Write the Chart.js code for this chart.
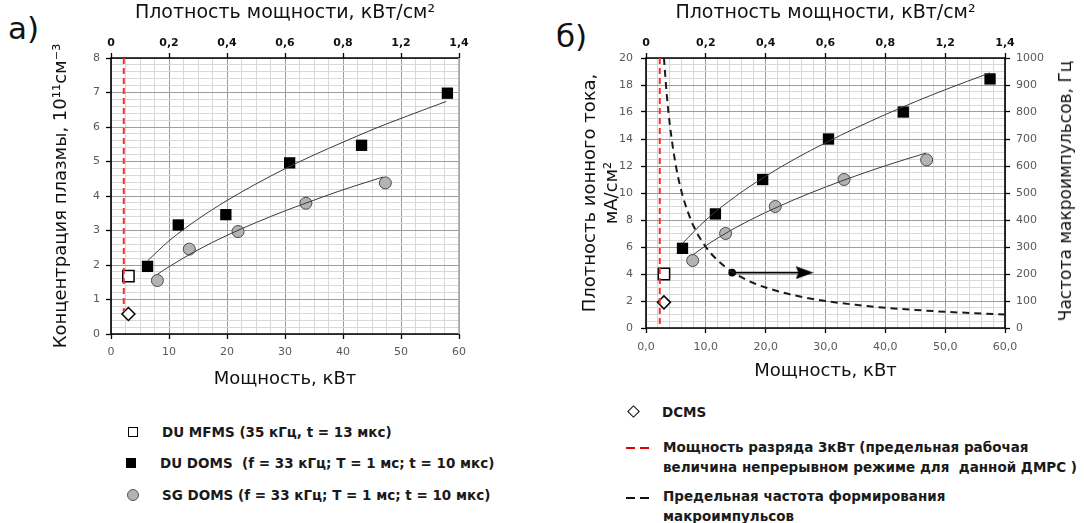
<!DOCTYPE html>
<html><head><meta charset="utf-8">
<script src="https://cdn.jsdelivr.net/npm/chart.js@4.4.1/dist/chart.umd.min.js"></script>
<style>
body{margin:0;width:1084px;height:523px;background:#fff;position:relative;overflow:hidden;font-family:"DejaVu Sans",sans-serif;color:#111}
canvas{position:absolute;top:0}
#ca{left:0}
#cb{left:540px}
.lbl{position:absolute;font-size:31px;line-height:36px}
.leg{position:absolute;font-size:13.5px;font-weight:bold;white-space:nowrap;line-height:20px;color:#1a1a1a}
.mk{position:absolute;box-sizing:border-box}
.dash{position:absolute;height:2px;width:9px}
#rt{position:absolute;left:1065px;top:191px;transform:translate(-50%,-50%) rotate(-90deg);font-size:17px;white-space:nowrap}
</style></head><body>
<div class="lbl" style="left:8px;top:10px">а)</div>
<div class="lbl" style="left:556px;top:18px">б)</div>
<canvas id="ca" width="540" height="400"></canvas>
<canvas id="cb" width="544" height="400"></canvas>
<div id="rt">Частота макроимпульсов, Гц</div>

<div class="mk" style="left:128px;top:427px;width:10px;height:10px;border:1.5px solid #000;background:#fff"></div>
<div class="leg" style="left:162px;top:422px">DU MFMS (35 кГц, t = 13 мкс)</div>
<div class="mk" style="left:126px;top:458px;width:10px;height:10px;background:#000"></div>
<div class="leg" style="left:160px;top:453px">DU DOMS&nbsp; (f = 33 кГц; T = 1 мс; t = 10 мкс)</div>
<div class="mk" style="left:127px;top:489px;width:12px;height:12px;border-radius:50%;background:#b3b3b3;border:1px solid #555"></div>
<div class="leg" style="left:162px;top:485px">SG DOMS (f = 33 кГц; T = 1 мс; t = 10 мкс)</div>

<div class="mk" style="left:629px;top:407px;width:9px;height:9px;border:1.5px solid #000;transform:rotate(45deg);background:#fff"></div>
<div class="leg" style="left:662px;top:402px">DCMS</div>
<div class="dash" style="left:626px;top:447px;background:#e00000"></div>
<div class="dash" style="left:640px;top:447px;background:#e00000"></div>
<div class="leg" style="left:663px;top:437px">Мощность разряда 3кВт (предельная рабочая</div>
<div class="leg" style="left:663px;top:457px">величина непрерывном режиме для&nbsp; данной ДМРС )</div>
<div class="dash" style="left:626px;top:497px;background:#111"></div>
<div class="dash" style="left:640px;top:497px;background:#111"></div>
<div class="leg" style="left:663px;top:486px">Предельная частота формирования</div>
<div class="leg" style="left:663px;top:506px">макроимпульсов</div>

<script>
// ---------- data ----------
const topDensityLabels = ['0','0,2','0,4','0,6','0,8','1,2','1,4'];

// chart а) plasma concentration, 10^11 cm^-3
const aMfmsX = [3.0];  const aMfmsY = [1.68];
const aDcmsX = [3.0];  const aDcmsY = [0.58];
const aDuX = [6.3, 11.6, 19.8, 30.8, 43.2, 58.0];
const aDuY = [1.96, 3.16, 3.46, 4.96, 5.47, 6.98];
const aSgX = [8.0, 13.5, 21.9, 33.6, 47.3];
const aSgY = [1.55, 2.46, 2.97, 3.79, 4.38];
const aDuTrendX = [6.3, 10, 15, 20, 25, 30, 35, 40, 45, 50, 57.8];
const aDuTrendY = [2.12, 2.70, 3.33, 3.87, 4.35, 4.79, 5.19, 5.56, 5.92, 6.25, 6.74];
const aSgTrendX = [8.0, 10, 15, 20, 25, 30, 35, 40, 46.9];
const aSgTrendY = [1.73, 1.95, 2.44, 2.86, 3.23, 3.57, 3.88, 4.18, 4.55];
const aLimitX = [2.2, 2.2]; const aLimitY = [8, 0.65];

// chart б) ion current density, mA/cm^2 and macro-pulse frequency, Hz
const bMfmsX = [3.0];  const bMfmsY = [4.0];
const bDcmsX = [3.0];  const bDcmsY = [1.9];
const bDuX = [6.1, 11.6, 19.5, 30.5, 43.0, 57.5];
const bDuY = [5.9, 8.45, 11.0, 14.0, 16.0, 18.45];
const bSgX = [7.8, 13.3, 21.6, 33.1, 46.9];
const bSgY = [5.0, 7.0, 9.0, 11.0, 12.45];
const bDuTrendX = [6.1, 10, 15, 20, 25, 30, 35, 40, 45, 50, 57.5];
const bDuTrendY = [6.27, 8.0, 9.76, 11.25, 12.55, 13.72, 14.8, 15.81, 16.76, 17.65, 18.9];
const bSgTrendX = [7.8, 10, 15, 20, 25, 30, 35, 40, 46.8];
const bSgTrendY = [5.4, 6.1, 7.44, 8.56, 9.55, 10.44, 11.26, 12.02, 12.96];
const bFreqX  = [3.0, 3.5, 4, 5, 6, 7, 8, 10, 12, 14.4, 17, 20, 25, 30, 35, 40, 45, 50, 55, 60];
const bFreqHz = [1000, 857, 750, 600, 500, 430, 375, 300, 250, 208, 176, 150, 120, 100, 86, 75, 67, 60, 55, 50];
const bLimitX = [2.3, 2.3]; const bLimitY = [20, 0];
const bArrowX = [14.4, 26.5]; const bArrowY = [4.1, 4.1];

// ---------- helpers ----------
const pts = (xs, ys) => xs.map((x, i) => ({x, y: ys[i]}));
const isMul = (v, m) => Math.abs(v / m - Math.round(v / m)) < 1e-6;
const tickFont = {family: 'DejaVu Sans', size: 11};
const tickColor = '#595959';
function grid(major) {
  return {
    color: c => isMul(c.tick.value, major) ? '#9c9c9c' : '#d8d8d8',
    lineWidth: 1,
    tickLength: 5,
    tickWidth: 1.3,
    tickColor: c => isMul(c.tick.value, major) ? '#000' : 'rgba(0,0,0,0)'
  };
}
const framePlugin = {
  id: 'frame',
  beforeDatasetsDraw(chart, args, opts) {
    const {ctx, chartArea: a} = chart;
    ctx.save();
    ctx.lineWidth = 1.6;
    ctx.strokeStyle = '#000';
    ctx.beginPath();
    ctx.moveTo(a.right, a.top); ctx.lineTo(a.left, a.top);
    ctx.lineTo(a.left, a.bottom); ctx.lineTo(a.right, a.bottom);
    ctx.stroke();
    ctx.strokeStyle = opts.rightColor || '#000';
    ctx.beginPath(); ctx.moveTo(a.right, a.top); ctx.lineTo(a.right, a.bottom); ctx.stroke();
    ctx.restore();
  }
};

const trend = (data, yAxisID) => ({data, showLine: true, borderColor: '#3a3a3a', borderWidth: 1,
  pointRadius: 0, cubicInterpolationMode: 'monotone', fill: false, yAxisID});
const limitLine = (data, yAxisID) => ({data, showLine: true, borderColor: '#ff2a2a', borderWidth: 2,
  borderDash: [6, 4], pointRadius: 0, yAxisID});
const duSet = (data, yAxisID) => ({data, pointStyle: 'rect', pointRadius: 8, backgroundColor: '#000',
  borderColor: '#000', borderWidth: 0, yAxisID});
const sgSet = (data, yAxisID) => ({data, pointStyle: 'circle', pointRadius: 6, backgroundColor: '#b3b3b3',
  borderColor: '#4a4a4a', borderWidth: 1, yAxisID});
const mfmsSet = (data, yAxisID) => ({data, pointStyle: 'rect', pointRadius: 8, backgroundColor: '#fff',
  borderColor: '#000', borderWidth: 1.5, yAxisID});
const dcmsSet = (data, yAxisID) => ({data, pointStyle: 'rectRot', pointRadius: 6.5, backgroundColor: '#fff',
  borderColor: '#000', borderWidth: 1.5, yAxisID});

function topAxis() {
  return {
    type: 'linear', position: 'top', min: 0, max: 60,
    ticks: {stepSize: 10, autoSkip: false, maxRotation: 0, padding: 3, color: '#111',
      font: {family: 'DejaVu Sans', size: 11, weight: 'bold'},
      callback: (v, i) => topDensityLabels[i]},
    grid: {drawOnChartArea: false, tickLength: 5, tickWidth: 1.3, tickColor: '#000'},
    border: {display: false},
    title: {display: true, text: 'Плотность мощности, кВт/см²', color: '#111',
      font: {family: 'DejaVu Sans', size: 19}, padding: {top: 2, bottom: 0}},
    afterFit: s => { s.height = 58; }
  };
}

// ---------- chart а) ----------
new Chart(document.getElementById('ca'), {
  type: 'scatter',
  data: {datasets: [
    limitLine(pts(aLimitX, aLimitY), 'y'),
    trend(pts(aDuTrendX, aDuTrendY), 'y'),
    trend(pts(aSgTrendX, aSgTrendY), 'y'),
    duSet(pts(aDuX, aDuY), 'y'),
    sgSet(pts(aSgX, aSgY), 'y'),
    mfmsSet(pts(aMfmsX, aMfmsY), 'y'),
    dcmsSet(pts(aDcmsX, aDcmsY), 'y')
  ]},
  options: {
    responsive: false, animation: false,
    layout: {padding: {left: 0, top: 0, right: 81, bottom: 0}},
    plugins: {legend: {display: false}, tooltip: {enabled: false}, frame: {rightColor: '#a8a8a8'}},
    scales: {
      x: {type: 'linear', position: 'bottom', min: 0, max: 60,
        ticks: {stepSize: 2.5, autoSkip: false, maxRotation: 0, padding: 7, color: tickColor, font: tickFont,
          callback: v => isMul(v, 10) ? String(Math.round(v)) : ''},
        grid: grid(10), border: {display: false},
        title: {display: true, text: 'Мощность, кВт', color: '#111', font: {family: 'DejaVu Sans', size: 18},
          padding: {top: 0, bottom: 10}},
        afterFit: s => { s.height = 66; }},
      xTop: topAxis(),
      y: {type: 'linear', position: 'left', min: 0, max: 8,
        ticks: {stepSize: 0.2, autoSkip: false, padding: 6, color: tickColor, font: tickFont,
          callback: v => isMul(v, 1) ? String(Math.round(v)) : ''},
        grid: grid(1), border: {display: false},
        title: {display: true, text: 'Концентрация плазмы, 10¹¹см⁻³', color: '#111',
          font: {family: 'DejaVu Sans', size: 18}, padding: {top: 51, bottom: 0}},
        afterFit: s => { s.width = 111; }}
    }
  },
  plugins: [framePlugin]
});

// ---------- chart б) ----------
const arrowHead = document.createElement('canvas');
arrowHead.width = 18; arrowHead.height = 13;
(function () {
  const g = arrowHead.getContext('2d');
  g.fillStyle = '#000';
  g.beginPath(); g.moveTo(0, 0); g.lineTo(18, 6.5); g.lineTo(0, 13); g.lineTo(3, 6.5); g.closePath(); g.fill();
})();

new Chart(document.getElementById('cb'), {
  type: 'scatter',
  data: {datasets: [
    limitLine(pts(bLimitX, bLimitY), 'y'),
    {data: pts(bFreqX, bFreqHz), yAxisID: 'y1', showLine: true, borderColor: '#1a1a1a', borderWidth: 2,
      borderDash: [7, 5], pointRadius: 0, cubicInterpolationMode: 'monotone'},
    trend(pts(bDuTrendX, bDuTrendY), 'y'),
    trend(pts(bSgTrendX, bSgTrendY), 'y'),
    {data: pts(bArrowX, bArrowY), yAxisID: 'y', showLine: true, borderColor: '#000', borderWidth: 1.6,
      pointStyle: ['circle', arrowHead], pointRadius: [3, 9], backgroundColor: '#000'},
    duSet(pts(bDuX, bDuY), 'y'),
    sgSet(pts(bSgX, bSgY), 'y'),
    mfmsSet(pts(bMfmsX, bMfmsY), 'y'),
    dcmsSet(pts(bDcmsX, bDcmsY), 'y')
  ]},
  options: {
    responsive: false, animation: false,
    layout: {padding: {left: 0, top: 0, right: 0, bottom: 0}},
    plugins: {legend: {display: false}, tooltip: {enabled: false}, frame: {rightColor: '#000'}},
    scales: {
      x: {type: 'linear', position: 'bottom', min: 0, max: 60,
        ticks: {stepSize: 2, autoSkip: false, maxRotation: 0, padding: 8, color: tickColor, font: tickFont,
          callback: v => isMul(v, 10) ? v.toFixed(1).replace('.', ',') : ''},
        grid: grid(10), border: {display: false},
        title: {display: true, text: 'Мощность, кВт', color: '#111', font: {family: 'DejaVu Sans', size: 18},
          padding: {top: 0, bottom: 18}},
        afterFit: s => { s.height = 72; }},
      xTop: topAxis(),
      y: {type: 'linear', position: 'left', min: 0, max: 20,
        ticks: {stepSize: 0.5, autoSkip: false, padding: 8, color: tickColor, font: tickFont,
          callback: v => isMul(v, 2) ? String(Math.round(v)) : ''},
        grid: grid(2), border: {display: false},
        title: {display: true, text: ['Плотность ионного тока,', 'мА/см²'], color: '#111',
          font: {family: 'DejaVu Sans', size: 18, lineHeight: 1.2}, padding: {top: 40, bottom: 0}},
        afterFit: s => { s.width = 106; }},
      y1: {type: 'linear', position: 'right', min: 0, max: 1000,
        ticks: {stepSize: 100, autoSkip: false, padding: 6, color: tickColor, font: tickFont,
          callback: v => String(v)},
        grid: {drawOnChartArea: false, tickLength: 5, tickWidth: 1.3, tickColor: '#000'},
        border: {display: false},
        afterFit: s => { s.width = 79; }}
    }
  },
  plugins: [framePlugin]
});
</script>
</body></html>
